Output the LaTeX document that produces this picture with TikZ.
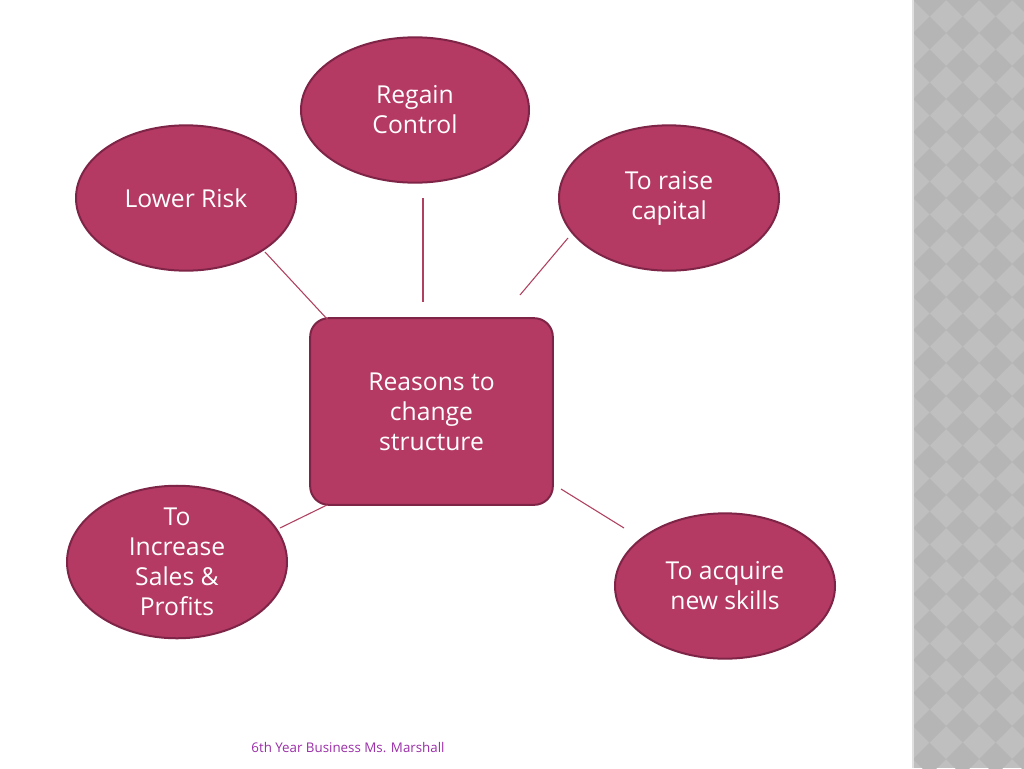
\documentclass[tikz,border=0pt]{standalone}
\usepackage{fontspec}
\setmainfont{Open Sans}
\usetikzlibrary{shapes.geometric}
\definecolor{fillc}{HTML}{B53A63}
\definecolor{edgec}{HTML}{7E2446}
\definecolor{linec}{HTML}{B0405F}
\definecolor{footc}{HTML}{9B2FA8}
\begin{document}
\begin{tikzpicture}[x=0.75pt,y=-0.75pt,
  oval/.style={ellipse,draw=edgec,line width=1.5pt,fill=fillc,text=white,align=center,font=\fontsize{18.5}{22.5}\selectfont,inner sep=0pt},
  box/.style={rectangle,rounded corners=14pt,draw=edgec,line width=1.5pt,fill=fillc,text=white,align=center,font=\fontsize{18.5}{22.5}\selectfont},
  conn/.style={draw=linec,line width=0.8pt}]
\useasboundingbox (0,0) rectangle (1024,768);
\fill[white] (0,0) rectangle (1024,768);
% side strip
\fill[gray!50] (913,0) rectangle (1024,768);
\begin{scope}
\clip (913,0) rectangle (1024,768);
\foreach \i in {0,...,4}{\foreach \j in {0,...,24}{
  \fill[gray!58] ({913+\i*33},{\j*33}) -- ++(16.5,-16.5) -- ++(16.5,16.5) -- ++(-16.5,16.5) -- cycle;}}
\end{scope}
\draw[gray!25,line width=1pt] (913,0) -- (913,768);
% nodes
\node[oval,minimum width=171pt,minimum height=109pt] (rc) at (415,110) {Regain\\Control};
\node[oval,minimum width=165pt,minimum height=109pt] (lr) at (186,198) {Lower Risk};
\node[oval,minimum width=165pt,minimum height=109pt] (cap) at (669,198) {To raise\\capital};
\node[box,minimum width=182pt,minimum height=140pt] (c) at (431.5,411.5) {Reasons to\\change\\structure};
\node[oval,minimum width=165pt,minimum height=112pt] (inc) at (177,562) {To\\Increase\\Sales \&\\Profits};
\node[oval,minimum width=165pt,minimum height=109pt] (sk) at (725,586) {To acquire\\new skills};
% connector endpoints
\coordinate (a1) at (265,252); \coordinate (a2) at (328,320);
\coordinate (b1) at (423,198); \coordinate (b2) at (423,302);
\coordinate (d1) at (568,238); \coordinate (d2) at (520,295);
\coordinate (e1) at (280,528); \coordinate (e2) at (327,505);
\coordinate (f1) at (561,489); \coordinate (f2) at (624,528);
\draw[conn] (a1) -- (a2);
\draw[conn] (b1) -- (b2);
\draw[conn] (d1) -- (d2);
\draw[conn] (e1) -- (e2);
\draw[conn] (f1) -- (f2);
\node[text=footc,font=\fontsize{10}{12}\selectfont] (ft) at (348,748) {6th Year Business Ms. Marshall};
\end{tikzpicture}
\end{document}
